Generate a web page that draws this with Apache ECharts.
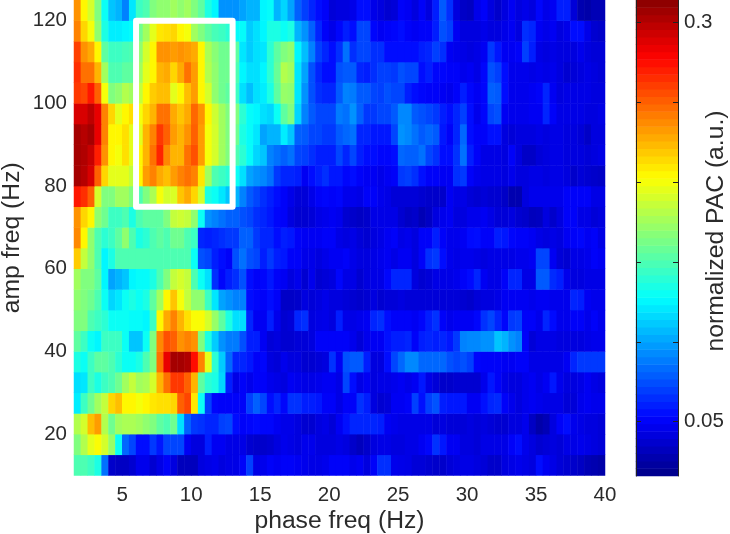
<!DOCTYPE html>
<html><head><meta charset="utf-8">
<script src="https://cdn.jsdelivr.net/npm/echarts@6/dist/echarts.min.js"></script>
<style>html,body{margin:0;padding:0;background:#fff}#c{width:730px;height:534px}</style>
</head><body><div id="c"></div>
<script>
// normalized PAC x 1000, one row per amp-freq bin, one value per 0.5 Hz phase-freq bin
const amp120=[235,205,190,165,130,110,105,90,120,145, 150,165,170,170,175,170,175,165,155,135, 125,95,95,95,100,105,105,125,128,105, 115,100,80,70,62,55,50,40,42,42, 45,55,55,45,42,38,40,50,48,42, 50,42,60,78,65,42,35,33,45,50, 42,36,42,48,42,45,42,52,45,48, 60,60,40,28,26,30,30];
const amp115=[240,215,200,170,135,122,122,125,128,160, 175,195,210,212,215,205,200,175,165,155, 148,145,140,128,128,112,118,125,135,135, 130,135,105,95,80,62,50,45,52,60, 55,72,72,52,48,50,52,55,50,48, 50,50,60,75,70,48,42,42,42,45, 42,42,45,48,42,65,62,48,45,48, 42,45,55,55,45,38,36];
const amp110=[260,235,228,205,155,145,145,148,150,170, 190,205,235,235,232,235,232,228,205,178, 168,160,160,155,120,112,118,120,140,155, 165,170,125,108,90,70,62,55,65,85, 65,72,72,65,65,55,55,55,55,55, 60,62,70,65,48,46,44,42,44,48, 68,58,48,48,50,70,60,44,42,44, 42,42,42,46,42,40,40];
const amp105=[265,245,245,225,175,150,150,155,155,175, 195,205,225,228,215,228,245,232,205,180, 170,160,160,150,125,118,118,125,140,158, 180,175,120,100,75,62,55,55,75,78, 78,62,60,65,70,70,68,75,72,72, 55,60,52,52,50,50,46,48,44,52, 75,70,55,46,46,46,44,46,44,46, 42,38,40,42,44,42,40];
const amp100=[262,258,272,250,200,165,170,180,175,185, 205,218,222,222,195,205,222,232,205,190, 170,160,155,145,118,108,118,122,135,155, 172,170,120,95,75,65,62,62,78,90, 88,78,78,72,70,75,72,72,60,55, 52,50,50,48,46,50,60,52,48,52, 80,78,55,46,46,46,48,50,62,48, 42,44,44,44,44,42,42];
const amp95=[290,290,298,285,240,215,195,205,212,200, 215,225,245,245,228,220,228,248,235,205, 188,175,165,165,140,128,125,118,115,130, 155,165,115,90,78,72,72,72,88,85, 95,80,68,68,72,72,78,92,92,78, 75,72,68,60,55,62,70,55,46,52, 72,75,48,46,46,46,48,48,62,50, 44,44,44,44,42,42,44];
const amp90=[305,300,305,285,240,205,205,212,195,195, 225,240,262,250,232,225,235,250,232,200, 190,175,165,160,135,128,120,100,105,105, 122,110,80,78,72,72,68,68,78,82, 85,62,62,58,58,58,72,95,92,85, 78,82,78,58,50,62,82,55,50,50, 56,56,42,40,42,42,42,44,42,44, 44,42,42,40,35,42,42];
const amp85=[305,302,295,270,235,205,200,212,195,205, 225,245,268,238,225,225,245,255,232,200, 190,175,165,150,140,128,115,110,90,85, 80,85,72,70,65,60,60,60,72,62, 72,60,55,55,52,52,55,82,80,80, 85,72,66,55,55,66,85,60,50,44, 44,44,42,50,42,35,35,40,42,44, 44,42,42,42,40,42,44];
const amp80=[305,300,290,250,215,195,195,195,185,205, 232,240,228,222,232,240,245,240,210,175, 150,145,140,130,118,100,95,92,85,68, 62,62,60,48,55,60,65,58,58,52, 55,50,48,48,45,48,50,68,70,65, 56,50,50,48,48,65,68,50,46,44, 44,44,42,46,42,42,44,44,42,44, 44,42,36,40,38,36,35];
const amp75=[272,265,250,190,165,165,175,175,165,150, 165,178,200,190,192,220,228,215,190,135, 130,120,110,105,90,78,72,65,60,55, 50,45,40,40,45,50,52,50,52,46, 46,44,50,50,46,44,40,40,40,40, 38,36,36,36,48,44,44,40,38,40, 38,38,35,28,28,42,46,46,46,46, 46,50,50,50,50,44,44];
const amp70=[235,215,205,170,160,145,145,150,135,150, 155,155,155,165,185,188,185,170,130,95, 90,85,80,80,75,72,65,62,58,52, 50,42,38,38,40,44,46,48,46,38, 36,34,36,44,44,44,44,38,34,36, 30,34,42,46,48,42,42,46,46,48, 44,40,40,42,38,36,32,33,42,36, 42,50,50,44,44,40,42];
const amp65=[238,205,170,150,140,145,155,170,150,135, 140,150,155,150,160,160,150,145,62,60, 62,65,68,68,80,80,68,62,62,55, 60,58,50,48,48,48,50,50,44,42, 44,40,38,42,44,48,50,44,46,42, 50,50,60,50,46,46,48,54,55,50, 50,60,58,52,50,50,48,44,42,44, 42,48,50,52,48,50,44];
const amp60=[218,185,170,150,125,135,150,150,150,150, 150,150,150,150,150,150,150,130,75,72, 60,55,50,75,85,75,72,60,68,60, 58,50,50,45,45,42,45,48,48,50, 45,42,42,44,46,48,44,48,48,42, 50,65,68,55,46,44,46,46,44,42, 44,44,44,44,46,46,48,72,72,48, 40,38,44,44,46,50,48];
const amp55=[175,165,165,155,125,100,105,110,125,128, 128,135,150,165,185,190,185,150,130,118, 65,52,60,65,75,55,50,52,58,50, 48,42,46,38,46,38,40,42,52,44, 44,38,42,44,44,52,62,62,62,42, 38,40,44,44,44,46,50,54,62,48, 44,44,50,62,62,44,44,78,78,64, 60,46,42,42,44,44,44];
const amp50=[170,165,160,150,130,115,120,130,135,130, 135,155,175,205,220,200,185,170,170,145, 120,100,95,90,90,55,52,50,55,50, 35,35,36,42,40,42,45,42,42,40, 38,36,38,42,38,40,40,42,40,40, 40,40,40,40,40,40,38,36,40,42, 42,44,48,48,48,48,46,48,48,46, 46,46,62,60,48,46,46];
const amp45=[165,165,150,145,140,130,130,130,128,128, 125,145,205,228,240,225,212,202,202,190, 172,155,135,118,118,62,48,48,60,46, 38,40,62,65,42,44,45,42,60,45, 44,46,48,62,65,55,50,50,50,48, 52,60,66,50,46,48,48,48,52,66, 72,62,52,68,70,50,50,46,62,54, 46,46,50,50,46,50,46];
const amp40=[155,145,130,125,145,145,145,130,110,110, 130,165,238,255,250,235,240,235,165,135, 112,95,88,88,75,60,60,48,40,42, 38,38,40,40,42,50,50,50,50,50, 46,40,46,48,48,56,60,60,62,50, 60,62,60,62,58,68,90,92,92,95, 95,110,105,95,90,50,40,44,44,44, 42,42,42,42,44,46,46];
const amp35=[135,130,145,155,155,150,140,130,130,135, 150,165,245,285,305,305,302,275,240,195, 140,112,82,62,62,58,50,52,42,40, 46,42,42,38,38,40,42,66,48,75, 78,78,60,42,42,55,72,82,92,92, 82,82,82,82,75,72,75,70,52,50, 50,50,48,48,50,50,44,44,44,44, 44,48,62,68,68,68,68];
const amp30=[118,120,145,135,145,150,160,175,185,175, 178,190,225,245,262,262,250,225,155,140, 135,115,60,44,50,46,50,50,46,44, 42,48,46,44,44,46,48,48,44,72, 55,44,48,42,44,44,46,48,45,48, 58,44,40,36,36,38,38,38,38,46, 58,50,44,42,42,46,48,44,48,58, 46,42,42,44,48,44,42];
const amp25=[122,145,160,175,185,215,222,205,205,200, 205,210,212,212,215,250,258,210,130,70, 52,50,50,50,50,70,80,72,55,62, 52,66,66,60,60,58,50,50,44,50, 50,66,60,42,38,40,48,48,50,70, 56,70,76,60,58,58,58,48,48,56, 62,64,50,46,42,46,48,46,44,44, 44,40,40,46,48,46,46];
const amp20=[180,190,222,232,180,160,175,178,178,175, 170,165,155,150,160,118,80,68,66,62, 62,70,72,55,50,52,54,52,52,48, 45,45,42,38,38,42,44,40,48,56, 62,62,62,62,60,48,46,44,44,44, 44,44,40,42,40,40,40,42,40,42, 40,38,38,42,42,46,34,26,30,42, 50,55,46,44,42,42,40];
const amp15=[165,180,195,202,190,172,130,82,72,55, 55,68,58,72,72,72,48,42,42,60, 48,48,44,44,44,38,36,36,38,42, 46,44,42,46,46,42,42,42,44,42, 36,32,36,42,44,44,42,42,44,44, 48,52,66,58,48,48,42,42,40,44, 44,44,44,50,55,46,42,38,40,42, 40,44,44,46,44,42,40];
const amp10=[150,150,145,135,85,36,34,34,38,46, 46,38,44,50,42,32,32,32,42,44, 46,42,44,44,50,70,44,46,50,48, 50,50,48,46,44,44,46,50,50,50, 46,48,42,50,65,65,46,45,44,40, 40,38,36,36,40,42,44,44,42,40, 36,36,42,44,46,44,42,55,48,44, 40,38,36,34,30,28,26];

const ampRows=[amp10,amp15,amp20,amp25,amp30,amp35,amp40,amp45,amp50,amp55,amp60,amp65,amp70,amp75,amp80,amp85,amp90,amp95,amp100,amp105,amp110,amp115,amp120];
const ampBins=ampRows.map((r,i)=>10+5*i);
const phaseBins=ampRows[0].map((v,i)=>1.5+0.5*i);
const xTicks=[5,10,15,20,25,30,35,40];
const yTicks=[20,40,60,80,100,120];
const cbTicks=[0.05,0.1,0.15,0.2,0.25,0.3];
const cbLabels=[0.05,0.3];
const boxX=[6,13,13,6,6];
const boxY=[75,75,120,120,75];
const cMin=0.016,cMax=0.314;

function jet(t){const c=o=>Math.round(255*Math.max(0,Math.min(1,1.5-Math.abs(4*t-o))));return `rgb(${c(3)},${c(2)},${c(1)})`;}
const jetColors=Array.from({length:64},(_,i)=>jet((i+0.5)/64));
const cbLevels=jetColors.map((_,i)=>cMin+(i+0.5)/64*(cMax-cMin));

const cells=[];
ampRows.forEach((r,j)=>r.forEach((v,i)=>cells.push([i,j,v/1000])));
const textColor='#2b2b2b',font='"Liberation Sans",Arial,sans-serif';
const lab={color:textColor,fontFamily:font,fontSize:20.5};
const nam={color:textColor,fontFamily:font,fontSize:24.7};

echarts.init(document.getElementById('c')).setOption({
  animation:false,backgroundColor:'#fff',
  grid:[{left:74,top:0,width:531,height:475.5,outerBoundsMode:'none'},{left:636,top:0,width:42,height:476,outerBoundsMode:'none'}],
  visualMap:{type:'continuous',show:false,min:cMin,max:cMax,seriesIndex:[0,1],dimension:2,inRange:{color:jetColors}},
  xAxis:[
    {type:'category',gridIndex:0,data:phaseBins,show:false},
    {type:'value',gridIndex:0,position:'bottom',min:1.5,max:40,name:'phase freq (Hz)',nameLocation:'middle',nameGap:33,nameMoveOverlap:false,nameTextStyle:nam,
      axisLine:{show:false},splitLine:{show:false},axisTick:{show:false},
      axisLabel:{...lab,margin:9,customValues:xTicks}},
    {type:'category',gridIndex:1,data:['c'],show:false}
  ],
  yAxis:[
    {type:'category',gridIndex:0,data:ampBins,show:false},
    {type:'value',gridIndex:0,position:'left',min:10,max:125,name:'amp freq (Hz)',nameLocation:'middle',nameRotate:90,nameGap:49,nameMoveOverlap:false,nameTextStyle:nam,
      axisLine:{show:false},splitLine:{show:false},axisTick:{show:false},
      axisLabel:{...lab,margin:7,customValues:yTicks}},
    {type:'category',gridIndex:1,data:cbLevels,show:false},
    {type:'value',gridIndex:1,position:'right',min:cMin,max:cMax,z:5,name:'normalized PAC (a.u.)',nameLocation:'middle',nameRotate:90,nameGap:26,nameMoveOverlap:false,nameTextStyle:{...nam,padding:[0,0,0,14]},
      axisLine:{show:true,lineStyle:{color:'#222',width:1}},splitLine:{show:false},
      axisTick:{show:true,inside:true,length:5,lineStyle:{color:'#222'},customValues:cbTicks},
      axisLabel:{...lab,margin:6,customValues:cbLabels,formatter:v=>String(v)}},
    {type:'value',gridIndex:1,position:'left',min:cMin,max:cMax,z:5,
      axisLine:{show:true,lineStyle:{color:'#222',width:1}},splitLine:{show:false},
      axisTick:{show:true,inside:true,length:5,lineStyle:{color:'#222'},customValues:cbTicks},
      axisLabel:{show:false}}
  ],
  series:[
    {type:'heatmap',xAxisIndex:0,yAxisIndex:0,data:cells,progressive:0,itemStyle:{borderWidth:0},emphasis:{disabled:true}},
    {type:'heatmap',xAxisIndex:2,yAxisIndex:2,data:cbLevels.map((v,i)=>[0,i,v]),progressive:0,itemStyle:{borderWidth:0},emphasis:{disabled:true}},
    {type:'line',xAxisIndex:1,yAxisIndex:1,data:boxX.map((x,i)=>[x,boxY[i]]),symbol:'none',z:6,silent:true,
      lineStyle:{color:'#fff',width:6,join:'round',cap:'round'}}
  ]
});
</script></body></html>
